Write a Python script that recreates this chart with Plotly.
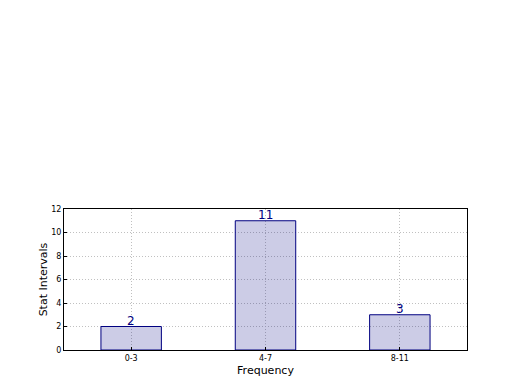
import plotly.graph_objects as go

categories = ["0-3", "4-7", "8-11"]
values = [2, 11, 3]
y_ticks = [0, 2, 4, 6, 8, 10, 12]

fig = go.Figure()
fig.add_trace(go.Bar(
    x=categories, y=values, width=0.45,
    marker=dict(color="rgba(0,0,128,0.2)", line=dict(color="navy", width=1)),
))
for c, v in zip(categories, values):
    fig.add_annotation(x=c, y=v, text=str(v), showarrow=False, yanchor="bottom",
                       yshift=-3, font=dict(color="navy", size=12, family="DejaVu Sans"))
fig.update_layout(
    width=504, height=374,
    margin=dict(l=56, r=45, t=201, b=32),
    paper_bgcolor="white", plot_bgcolor="white",
    showlegend=False,
    font=dict(family="DejaVu Sans", color="black"),
)
fig.update_xaxes(
    range=[-0.5, 2.5], showline=True, linecolor="black", linewidth=1, mirror=True,
    showgrid=True, gridcolor="#c0c0c0", griddash="1px,2px", gridwidth=1, automargin=False,
    ticks="inside", ticklen=3, tickcolor="black", tickfont=dict(size=8),
    title=dict(text="Frequency", font=dict(size=11), standoff=4),
)
fig.update_yaxes(
    range=[0, 12], tickvals=y_ticks, showline=True, linecolor="black", linewidth=1, mirror=True,
    showgrid=True, gridcolor="#c0c0c0", griddash="1px,2px", gridwidth=1, zeroline=False,
    automargin=False,
    ticks="inside", ticklen=3, tickcolor="black", tickfont=dict(size=8),
    title=dict(text="Stat Intervals", font=dict(size=11), standoff=1),
)
fig.write_html("out.html")
